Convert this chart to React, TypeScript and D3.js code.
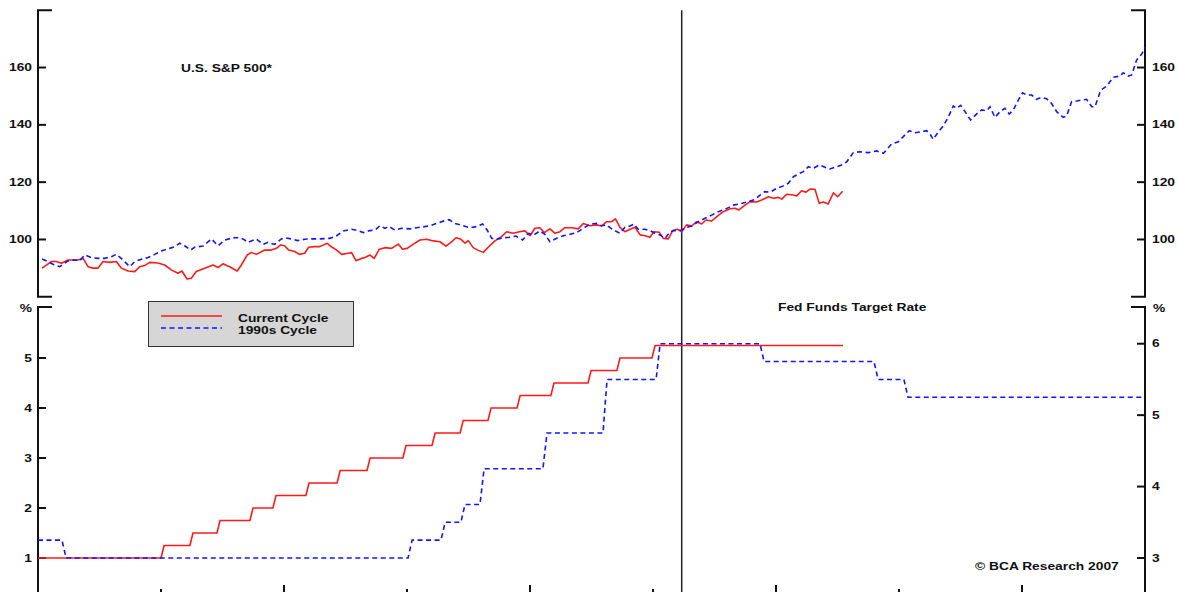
import React from 'react';
import * as d3 from 'd3';

// ---------- DATA (x = months since Jan 2004; 1990s cycle aligned on last hike) ----------
const X_TICKS = [0, 6, 12, 18, 24, 30, 36, 42, 48, 54];
const SPX_TICKS = [100, 120, 140, 160];
const FF_LEFT_TICKS = [1, 2, 3, 4, 5];
const FF_RIGHT_TICKS = [3, 4, 5, 6];
const PAUSE_MONTH = 31.4;

const CURRENT_SPX_MONTHS = [
  0.2, 0.65, 0.89, 1.14, 1.46, 1.95, 2.2, 2.44, 2.68, 2.93, 3.17, 3.5, 3.82, 4.07, 4.39, 4.72, 4.96, 5.2, 5.45, 5.85,
  6.18, 6.5, 6.83, 7.02, 7.27, 7.48, 7.72, 8.13, 8.54, 8.78, 9.02, 9.35, 9.72, 9.92, 10.21, 10.41, 10.65, 11.06, 11.38, 11.63,
  11.84, 12.03, 12.23, 12.52, 12.76, 13.01, 13.2, 13.5, 13.74, 14.11, 14.24, 14.57, 14.81, 15.13, 15.3, 15.51, 15.78, 15.95, 16.19, 16.4,
  16.65, 16.92, 17.25, 17.57, 17.78, 18.01, 18.31, 18.63, 18.96, 19.28, 19.61, 19.9, 20.13, 20.39, 20.61, 20.83, 20.99, 21.23, 21.48, 21.72,
  21.96, 22.29, 22.61, 22.86, 23.18, 23.48, 23.75, 24.0, 24.24, 24.48, 24.7, 24.97, 25.22, 25.46, 25.7, 26.03, 26.35, 26.6, 26.92, 27.25,
  27.49, 27.74, 27.98, 28.17, 28.39, 28.63, 28.88, 29.12, 29.37, 29.61, 29.85, 30.05, 30.31, 30.5, 30.75, 30.96, 31.19, 31.4, 31.64, 31.89,
  32.13, 32.37, 32.59, 32.86, 33.11, 33.43, 33.76, 34.0, 34.19, 34.49, 34.73, 35.06, 35.3, 35.63, 35.87, 36.11, 36.28, 36.52, 36.85, 37.01,
  37.25, 37.46, 37.66, 37.9, 38.11, 38.31, 38.55, 38.8, 39.01, 39.25,
];
const CURRENT_SPX_VALUES = [
  90.0, 92.3, 92.3, 91.7, 92.85, 92.85, 93.4, 90.5, 90.0, 90.0, 92.3, 92.0, 92.3, 90.0, 89.0, 88.8, 90.5, 90.9, 92.0, 91.8,
  91.1, 89.4, 88.2, 89.0, 86.2, 86.5, 88.8, 90.0, 91.1, 90.2, 91.5, 90.5, 89.0, 91.1, 94.6, 95.5, 94.8, 96.3, 96.3, 96.9,
  98.1, 97.8, 96.3, 95.8, 94.8, 95.2, 97.3, 97.5, 97.5, 98.7, 97.8, 96.3, 94.8, 95.2, 95.4, 92.6, 93.4, 93.7, 94.6, 93.4,
  96.6, 97.15, 96.9, 98.4, 96.6, 96.9, 98.4, 99.8, 100.1, 99.5, 99.2, 97.7, 98.9, 100.6, 100.2, 98.7, 99.6, 97.15, 96.2, 95.5,
  97.3, 99.5, 101.0, 102.7, 102.15, 102.7, 103.0, 101.3, 103.9, 104.1, 102.4, 103.7, 102.15, 102.7, 104.1, 104.1, 103.7, 105.6, 104.8, 105.1,
  104.7, 106.2, 106.2, 107.2, 104.2, 102.7, 103.55, 104.25, 101.6, 101.3, 100.75, 102.7, 102.5, 100.4, 100.2, 103.1, 103.55, 102.7, 105.1, 104.7,
  106.2, 105.4, 106.8, 106.45, 108.0, 109.7, 110.7, 110.9, 110.3, 112.0, 113.2, 113.1, 113.8, 114.9, 114.4, 114.7, 114.1, 115.8, 115.5, 115.2,
  117.0, 116.5, 117.6, 117.5, 112.6, 113.1, 112.4, 116.3, 114.9, 116.8,
];

const CYCLE90_SPX_MONTHS = [
  0.2, 0.49, 0.73, 1.06, 1.3, 1.54, 1.79, 2.03, 2.28, 2.6, 2.93, 3.25, 3.58, 3.82, 4.15, 4.47, 4.72, 5.04, 5.37, 5.69,
  6.02, 6.42, 6.67, 6.91, 7.15, 7.45, 7.64, 8.05, 8.46, 8.78, 9.11, 9.51, 9.76, 10.0, 10.24, 10.65, 10.98, 11.22, 11.54, 11.87,
  12.03, 12.36, 12.68, 13.01, 13.33, 13.66, 14.24, 14.57, 14.89, 15.3, 15.62, 15.87, 16.19, 16.44, 16.68, 16.92, 17.13, 17.41, 17.74, 18.14,
  18.47, 18.79, 19.12, 19.44, 19.77, 20.06, 20.34, 20.74, 21.07, 21.39, 21.69, 21.91, 22.13, 22.37, 22.7, 23.02, 23.31, 23.64, 23.91, 24.19,
  24.48, 24.73, 24.97, 25.3, 25.62, 25.95, 26.27, 26.6, 26.92, 27.25, 27.49, 27.74, 27.98, 28.39, 28.63, 28.88, 29.07, 29.28, 29.61, 29.85,
  30.1, 30.34, 30.59, 30.83, 31.07, 31.4, 31.64, 31.89, 32.21, 32.54, 32.86, 33.19, 33.51, 33.92, 34.24, 34.65, 34.98, 35.22, 35.46, 35.71,
  36.03, 36.36, 36.6, 36.85, 37.09, 37.33, 37.58, 37.82, 38.11, 38.39, 38.63, 38.88, 39.2, 39.45, 39.77, 40.1, 40.5, 40.91, 41.24, 41.64,
  41.97, 42.21, 42.5, 42.78, 43.1, 43.35, 43.54, 43.67, 43.92, 44.16, 44.41, 44.65, 44.81, 45.01, 45.22, 45.49, 45.79, 46.03, 46.28, 46.44,
  46.68, 46.93, 47.17, 47.38, 47.58, 47.82, 48.03, 48.23, 48.47, 48.71, 48.96, 49.2, 49.44, 49.69, 50.02, 50.18, 50.42, 50.67, 50.91, 51.15,
  51.4, 51.56, 51.84, 52.13, 52.45, 52.78, 52.94, 53.19, 53.35, 53.59, 53.84, 54.0,
];
const CYCLE90_SPX_VALUES = [
  93.2, 92.3, 91.35, 90.5, 91.7, 92.85, 92.85, 92.5, 94.6, 93.7, 93.4, 93.4, 94.0, 94.8, 92.85, 90.5, 92.3, 93.1, 93.7, 94.8,
  96.0, 96.9, 97.5, 98.7, 97.8, 96.3, 97.3, 97.7, 100.2, 97.8, 99.8, 100.6, 100.6, 100.2, 99.0, 100.2, 98.3, 99.0, 98.3, 100.2,
  100.6, 100.2, 99.6, 100.1, 100.2, 100.2, 100.4, 101.3, 103.0, 103.55, 103.1, 102.4, 103.1, 103.3, 104.8, 103.9, 104.5, 103.3, 103.9, 103.7,
  104.1, 104.4, 104.8, 105.6, 106.4, 106.9, 105.6, 104.8, 104.1, 104.5, 105.4, 103.3, 100.4, 100.1, 100.6, 100.8, 101.2, 99.8, 102.15, 101.6,
  103.0, 101.8, 99.2, 100.4, 101.3, 101.8, 102.4, 103.9, 105.3, 105.6, 104.8, 105.1, 103.7, 102.15, 104.25, 104.7, 105.4, 103.55, 103.55, 103.1,
  102.15, 101.6, 100.4, 102.7, 103.1, 103.3, 104.25, 104.7, 106.2, 107.4, 108.5, 109.7, 110.5, 112.0, 112.4, 113.2, 114.0, 115.5, 116.7, 116.5,
  117.85, 118.7, 119.6, 121.9, 122.85, 123.65, 125.4, 124.8, 126.0, 125.2, 124.6, 125.2, 126.0, 127.1, 130.3, 130.6, 130.3, 130.9, 130.06, 133.3,
  134.1, 135.9, 137.95, 137.25, 137.6, 137.95, 136.45, 134.95, 137.6, 139.6, 142.8, 146.6, 145.75, 146.8, 144.6, 141.7, 143.8, 145.2, 144.9, 146.3,
  142.6, 144.6, 145.75, 143.8, 145.2, 148.65, 151.2, 150.4, 150.4, 148.9, 149.6, 149.1, 147.5, 144.6, 142.6, 143.1, 148.1, 148.3, 148.65, 148.9,
  146.3, 146.3, 152.1, 153.5, 156.6, 157.0, 158.2, 157.0, 157.4, 162.6, 164.7, 167.0,
];

// Fed funds target rate: months at which the rate changed, and the new rate
const CURRENT_FF_CHANGES = [0, 6.0, 7.41, 8.73, 10.34, 11.46, 13.07, 14.59, 16.05, 17.8, 19.22, 20.59, 21.95, 23.37, 25.02, 26.83, 28.24, 29.95];
const CURRENT_FF_RATES = [1.0, 1.25, 1.5, 1.75, 2.0, 2.25, 2.5, 2.75, 3.0, 3.25, 3.5, 3.75, 4.0, 4.25, 4.5, 4.75, 5.0, 5.25];
const CURRENT_FF_END = 39.27;

const CYCLE90_FF_CHANGES = [0, 1.17, 18.05, 19.66, 20.63, 21.56, 24.63, 27.56, 30.15, 35.22, 40.78, 42.24];
const CYCLE90_FF_RATES = [3.25, 3.0, 3.25, 3.5, 3.75, 4.25, 4.75, 5.5, 6.0, 5.75, 5.5, 5.25];
const CYCLE90_FF_END = 54;

// ---------- LAYOUT ----------
const W = 1178;
const H = 592;
const FONT = '"Liberation Sans", Arial, Helvetica, sans-serif';
const SX = 1.2;
const RED = '#ff1a1a';
const BLUE = '#1414ff';
const INK = '#111';

const x = d3.scaleLinear().domain([0, 54]).range([38, 1145]);
const ySpx = d3.scaleLinear().domain([80, 180]).range([296.8, 10.2]);
const yFFL = d3.scaleLinear().domain([0, 6]).range([608, 308]);
const yFFR = d3.scaleLinear().domain([2.3, 6.5]).range([608, 308]);

function Label({ x: lx, y: ly, anchor = 'start', children }: any) {
  return (
    <text
      transform={`translate(${lx},${ly}) scale(${SX},1)`}
      textAnchor={anchor}
      dominantBaseline="central"
      fontFamily={FONT}
      fontWeight="bold"
      fontSize={11.5}
      fill={INK}
    >
      {children}
    </text>
  );
}

function stepPoints(changes: number[], rates: number[], end: number, slant: number) {
  const pts: [number, number][] = [];
  changes.forEach((c, i) => {
    if (i === 0) pts.push([c, rates[0]]);
    else {
      pts.push([c, rates[i - 1]]);
      pts.push([c + slant, rates[i]]);
    }
  });
  pts.push([end, rates[rates.length - 1]]);
  return pts;
}

export default function App() {
  const spxLine = d3
    .line<[number, number]>()
    .x((d) => x(d[0]))
    .y((d) => ySpx(d[1]));
  const redSpx = spxLine(CURRENT_SPX_MONTHS.map((m, i) => [m, CURRENT_SPX_VALUES[i]]));
  const blueSpx = spxLine(CYCLE90_SPX_MONTHS.map((m, i) => [m, CYCLE90_SPX_VALUES[i]]));

  const redFF = d3
    .line<[number, number]>()
    .x((d) => x(d[0]))
    .y((d) => yFFL(d[1]))(stepPoints(CURRENT_FF_CHANGES, CURRENT_FF_RATES, CURRENT_FF_END, 0.15));
  const blueFF = d3
    .line<[number, number]>()
    .x((d) => x(d[0]))
    .y((d) => yFFR(d[1]))(stepPoints(CYCLE90_FF_CHANGES, CYCLE90_FF_RATES, CYCLE90_FF_END, 0.2));

  const xl = x(0);
  const xr = x(54);
  const topY = ySpx(180);
  const botY = ySpx(80);
  const ffTop = yFFL(6) - 1;
  const axisStroke = { stroke: INK, strokeWidth: 2, fill: 'none' };

  return (
    <svg
      width={W}
      height={H}
      viewBox={`0 0 ${W} ${H}`}
      style={{ position: 'absolute', left: 0, top: 0, background: '#fff' }}
    >
      <rect x={0} y={0} width={W} height={H} fill="#fff" />

      {/* top panel axes */}
      <path d={`M${xl + 14},${topY}H${xl}V${botY}H${xl + 14}`} {...axisStroke} />
      <path d={`M${xr - 14},${topY}H${xr}V${botY}H${xr - 14}`} {...axisStroke} />
      {SPX_TICKS.map((t) => (
        <g key={'s' + t}>
          <line x1={xl} x2={xl + 8} y1={ySpx(t)} y2={ySpx(t)} {...axisStroke} />
          <line x1={xr - 8} x2={xr} y1={ySpx(t)} y2={ySpx(t)} {...axisStroke} />
          <Label x={32} y={ySpx(t)} anchor="end">{t}</Label>
          <Label x={1152} y={ySpx(t)}>{t}</Label>
        </g>
      ))}

      {/* bottom panel axes */}
      <path d={`M${xl + 14},${ffTop}H${xl}V${H + 10}`} {...axisStroke} />
      <path d={`M${xr - 14},${ffTop}H${xr}V${H + 10}`} {...axisStroke} />
      {FF_LEFT_TICKS.map((t) => (
        <g key={'l' + t}>
          <line x1={xl} x2={xl + 8} y1={yFFL(t)} y2={yFFL(t)} {...axisStroke} />
          <Label x={32} y={yFFL(t)} anchor="end">{t}</Label>
        </g>
      ))}
      {FF_RIGHT_TICKS.map((t) => (
        <g key={'r' + t}>
          <line x1={xr - 8} x2={xr} y1={yFFR(t)} y2={yFFR(t)} {...axisStroke} />
          <Label x={1152} y={yFFR(t)}>{t}</Label>
        </g>
      ))}
      <Label x={32} y={ffTop + 1} anchor="end">%</Label>
      <Label x={1153} y={ffTop + 1}>%</Label>

      {/* x axis ticks (axis line just below the visible area) */}
      <line x1={xl} x2={xr} y1={H + 1} y2={H + 1} {...axisStroke} />
      {X_TICKS.map((t, i) => (
        <line key={'x' + t} x1={x(t)} x2={x(t)} y1={H + 1} y2={H + 1 - (i % 2 === 0 ? 8 : 4)} {...axisStroke} />
      ))}

      {/* pause marker */}
      <line x1={x(PAUSE_MONTH)} x2={x(PAUSE_MONTH)} y1={topY} y2={H} stroke="#222" strokeWidth={1.5} />

      {/* series */}
      <path d={redSpx || ''} fill="none" stroke={RED} strokeWidth={1.6} strokeLinejoin="round" />
      <path d={blueSpx || ''} fill="none" stroke={BLUE} strokeWidth={1.6} strokeDasharray="5,3.5" />
      <path d={redFF || ''} fill="none" stroke={RED} strokeWidth={1.6} />
      <path d={blueFF || ''} fill="none" stroke={BLUE} strokeWidth={1.6} strokeDasharray="5,3.5" />

      {/* titles */}
      <Label x={181} y={68}>U.S. S&amp;P 500*</Label>
      <Label x={778} y={307}>Fed Funds Target Rate</Label>
      <Label x={975} y={566}>© BCA Research 2007</Label>

      {/* legend */}
      <rect x={148.5} y={301.5} width={205} height={45} fill="#d6d6d6" stroke="#333" strokeWidth={1} />
      <line x1={161} x2={222} y1={316} y2={316} stroke={RED} strokeWidth={1.6} />
      <line x1={161} x2={222} y1={328} y2={328} stroke={BLUE} strokeWidth={1.6} strokeDasharray="5,3.5" />
      <Label x={238} y={318}>Current Cycle</Label>
      <Label x={238} y={330}>1990s Cycle</Label>
    </svg>
  );
}
